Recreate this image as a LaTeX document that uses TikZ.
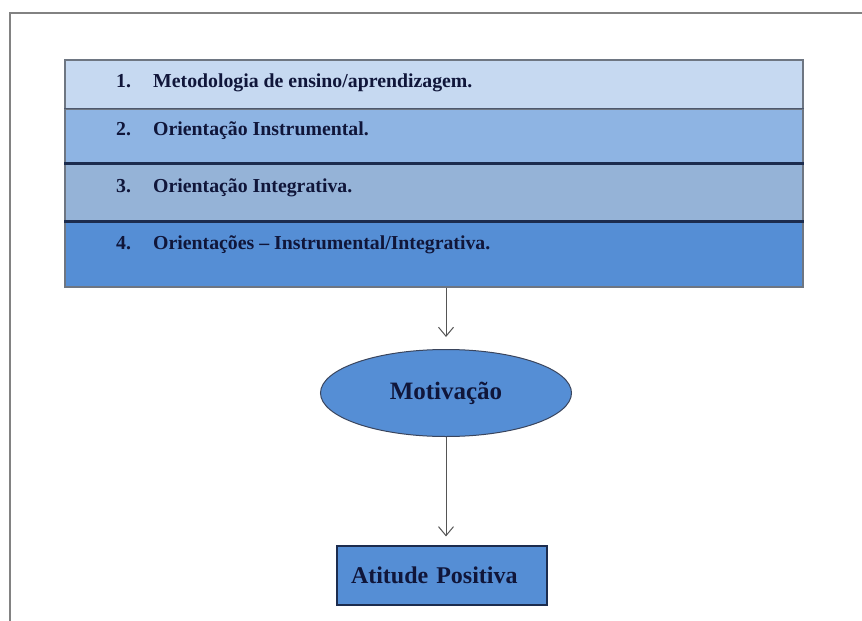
\documentclass[tikz,border=0pt]{standalone}
\usepackage{fontspec}
\setmainfont{Liberation Serif}
\usetikzlibrary{shapes.geometric,arrows.meta}

\definecolor{rowa}{RGB}{198,217,241}
\definecolor{rowb}{RGB}{142,180,227}
\definecolor{rowc}{RGB}{149,179,215}
\definecolor{rowd}{RGB}{85,142,213}
\definecolor{ink}{RGB}{16,22,58}
\definecolor{edgegray}{RGB}{110,118,130}
\definecolor{sepnavy}{RGB}{28,44,78}
\definecolor{framegray}{RGB}{130,130,130}
\definecolor{arrowgray}{RGB}{85,85,85}

\newcommand\rowfont{\fontsize{19.8}{23}\selectfont\bfseries}
\newcommand\rownum[1]{\makebox[37pt][l]{#1}}

\begin{document}
\begin{tikzpicture}
  [x=1pt,y=-1pt,
   every node/.style={text=ink},
   row/.style={draw=edgegray,line width=1.2pt,minimum width=738pt,minimum height=#1,inner sep=0pt},
   rowtext/.style={anchor=west,inner sep=0pt,font=\rowfont},
   sepline/.style={sepnavy,line width=2.6pt},
   link/.style={arrowgray,line width=1pt,-{Straight Barb[length=9pt,width=15pt]}}]
  \useasboundingbox (0,0) rectangle (862,621);
  % outer frame
  \draw[framegray,line width=2.8pt] (862,13) -- (10,13) -- (10,621);
  % stacked rows
  \node[row=49pt,fill=rowa] (r1) at (434,84.5) {};
  \node[row=55pt,fill=rowb] (r2) at (434,136.5) {};
  \node[row=58pt,fill=rowc] (r3) at (434,193) {};
  \node[row=65pt,fill=rowd] (r4) at (434,254.5) {};
  \draw[sepline,line width=1.6pt,edgegray!60!sepnavy] (r2.north west) -- (r2.north east);
  \draw[sepline] (r3.north west) -- (r3.north east);
  \draw[sepline] (r4.north west) -- (r4.north east);
  \node[rowtext] (t1) at (116,83) {\rownum{1.}Metodologia de ensino/aprendizagem.};
  \node[rowtext] (t2) at (116,131) {\rownum{2.}Orientação Instrumental.};
  \node[rowtext] (t3) at (116,188) {\rownum{3.}Orientação Integrativa.};
  \node[rowtext] (t4) at (116,245) {\rownum{4.}Orientações -- Instrumental/Integrativa.};
  % motivation and result
  \node[ellipse,draw=sepnavy!70!gray,line width=1pt,fill=rowd,minimum width=251pt,minimum height=87pt,inner sep=0pt,
        font=\fontsize{25}{28}\selectfont\bfseries] (mot) at (446,393) {Motivação};
  \node[draw=sepnavy,line width=1.2pt,fill=rowd,text width=182pt,inner xsep=14pt,minimum height=59pt,align=left,
        font=\fontsize{24}{27}\selectfont\bfseries] (att) at (442,575.5) {Atitude Positiva};
  \draw[link,shorten >=12pt] (mot |- r4.south) -- (mot.north);
  \draw[link,shorten >=9pt] (mot.south) -- (mot.south |- att.north);
\end{tikzpicture}
\end{document}
